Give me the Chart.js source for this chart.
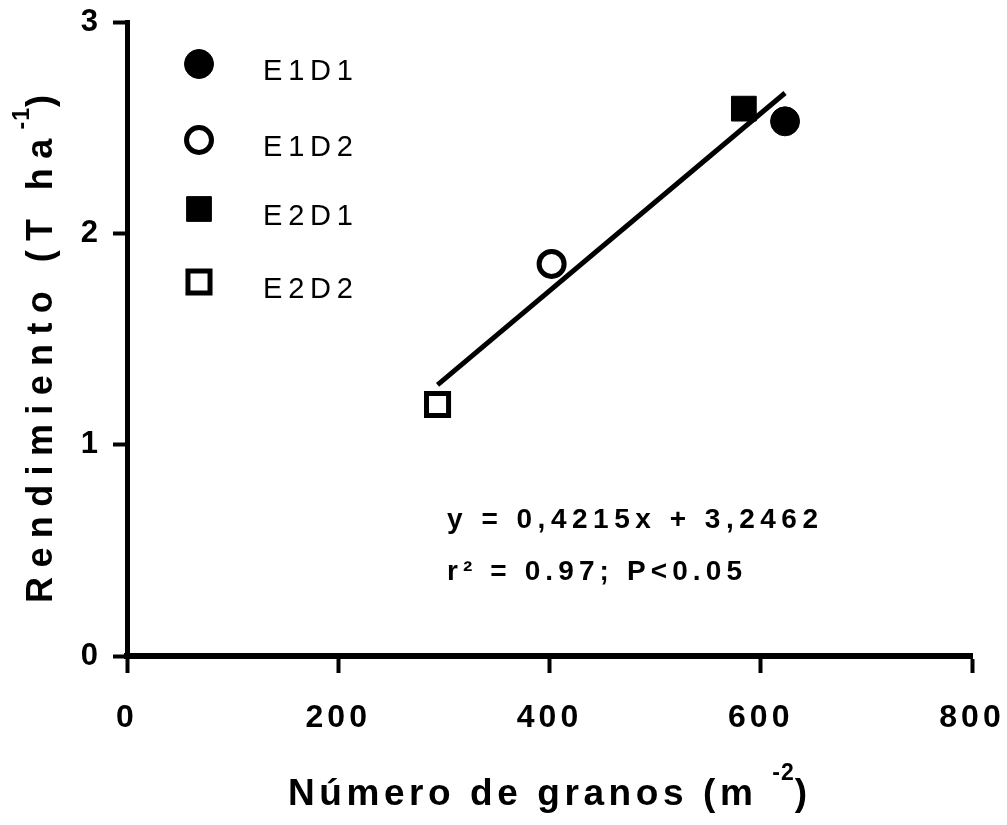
<!DOCTYPE html>
<html>
<head>
	<meta charset="utf-8">
	<title>Rendimiento vs Número de granos</title>
	<style>
		html, body { margin: 0; padding: 0; background: #ffffff; }
		#wrap { width: 1007px; height: 825px; position: relative; }
	</style>
</head>
<body>
	<div id="wrap">
		<canvas id="yieldChart"></canvas>
	</div>

	<script src="https://cdn.jsdelivr.net/npm/chart.js@4.4.0/dist/chart.umd.min.js"></script>
	<script type="text/javascript">
		// values
		const seriesLabels = ['E1D1', 'E1D2', 'E2D1', 'E2D2'];
		const grainNumbers = [623, 402, 584, 294];
		const yields = [2.53, 1.855, 2.59, 1.19];
		const fitX = [294, 623];
		const fitY = [1.283, 2.664];
		const xTicks = [0, 200, 400, 600, 800];
		const yTicks = [0, 1, 2, 3];
		const equationLines = ['y = 0,4215x + 3,2462', 'r² = 0.97; P<0.05'];

		const FONT = 'Liberation Sans, Arial, sans-serif';

		// marker look per series: filled circle, open circle, filled square, open square
		const markerStyles = [
			{ pointStyle: 'circle', radius: 14.5, filled: true, borderWidth: 1 },
			{ pointStyle: 'circle', radius: 12.5, filled: false, borderWidth: 5 },
			{ pointStyle: 'rect', radius: 17.5, filled: true, borderWidth: 1 },
			{ pointStyle: 'rect', radius: 15.6, filled: false, borderWidth: 5 }
		];

		const datasets = seriesLabels.map((lab, i) => ({
			label: lab,
			data: [{ x: grainNumbers[i], y: yields[i] }],
			pointStyle: markerStyles[i].pointStyle,
			pointRadius: markerStyles[i].radius,
			pointBorderWidth: markerStyles[i].borderWidth,
			pointBackgroundColor: markerStyles[i].filled ? '#000000' : '#ffffff',
			pointBorderColor: '#000000',
			showLine: false,
			order: 1
		}));
		datasets.push({
			label: 'ajuste',
			data: fitX.map((x, i) => ({ x: x, y: fitY[i] })),
			showLine: true,
			borderColor: '#000000',
			borderWidth: 5,
			pointRadius: 0,
			order: 2
		});

		// draws pieces of text spread out to a given width; superscript pieces stay tight
		function drawRuns(ctx, runs, x, y, width) {
			let natural = 0, chars = 0;
			runs.forEach(r => {
				ctx.font = r.font;
				ctx.letterSpacing = r.sup ? '1px' : '0px';
				natural += ctx.measureText(r.text).width;
				if (!r.sup) chars += r.text.length;
			});
			const sp = Math.max(0, (width - natural) / Math.max(1, chars - 1));
			let cx = x;
			runs.forEach(r => {
				ctx.font = r.font;
				ctx.letterSpacing = r.sup ? '1px' : sp + 'px';
				ctx.fillText(r.text, cx, y + (r.dy || 0));
				cx += ctx.measureText(r.text).width;
			});
			ctx.letterSpacing = '0px';
		}

		function drawMarker(ctx, st, x, y) {
			ctx.save();
			ctx.lineWidth = st.borderWidth;
			ctx.strokeStyle = '#000000';
			ctx.fillStyle = st.filled ? '#000000' : '#ffffff';
			ctx.beginPath();
			if (st.pointStyle === 'circle') {
				ctx.arc(x, y, st.radius, 0, Math.PI * 2);
			} else {
				const s = st.radius / Math.SQRT2;
				ctx.rect(x - s, y - s, 2 * s, 2 * s);
			}
			ctx.fill();
			ctx.stroke();
			ctx.restore();
		}

		const spacing = {
			id: 'spacing',
			beforeDraw(chart) {
				chart.ctx.letterSpacing = '4px';
			}
		};

		const extras = {
			id: 'extras',
			afterDraw(chart) {
				const ctx = chart.ctx;
				ctx.save();
				ctx.fillStyle = '#000000';
				ctx.textBaseline = 'alphabetic';
				ctx.textAlign = 'left';

				// legend inside the plot
				const legendY = [64, 140, 209, 282];
				seriesLabels.forEach((lab, i) => {
					drawMarker(ctx, markerStyles[i], 199, legendY[i]);
					drawRuns(ctx, [{ text: lab, font: '29px ' + FONT }], 263, legendY[i] + 16, 90);
				});

				// regression text
				const eqFont = 'bold 28px ' + FONT;
				drawRuns(ctx, [{ text: equationLines[0], font: eqFont }], 447, 528, 371);
				drawRuns(ctx, [{ text: equationLines[1], font: eqFont }], 447, 580, 295);

				// x title
				const tFont = 'bold 37px ' + FONT;
				const sFont = 'bold 23px ' + FONT;
				drawRuns(ctx, [
					{ text: 'Número de granos (m ', font: tFont },
					{ text: '-2', font: sFont, dy: -25, sup: true },
					{ text: ')', font: tFont }
				], 288, 805, 519);

				// y title
				ctx.save();
				ctx.translate(52, 603);
				ctx.rotate(-Math.PI / 2);
				drawRuns(ctx, [
					{ text: 'Rendimiento (T ha', font: 'bold 36px ' + FONT },
					{ text: '-1', font: sFont, dy: -23, sup: true },
					{ text: ')', font: 'bold 36px ' + FONT }
				], 0, 0, 508);
				ctx.restore();

				ctx.restore();
			}
		};

		const ctx = document.getElementById('yieldChart').getContext('2d');
		const chart = new Chart(ctx, {
			type: 'scatter',
			data: { datasets: datasets },
			options: {
				responsive: true,
				maintainAspectRatio: false,
				animation: false,
				layout: { padding: { top: 22, right: 35, left: 0, bottom: 0 } },
				plugins: {
					legend: { display: false },
					tooltip: { enabled: false }
				},
				scales: {
					x: {
						type: 'linear',
						min: 0,
						max: 800,
						afterFit: s => { s.height = 169; s.paddingLeft = 0; s.paddingRight = 0; },
						afterBuildTicks: s => { s.ticks = xTicks.map(v => ({ value: v })); },
						grid: { display: true, drawOnChartArea: false, drawTicks: true, tickLength: 17, tickWidth: 4, tickColor: '#000000' },
						border: { display: true, width: 6, color: '#000000' },
						ticks: { color: '#000000', padding: 26, font: { family: FONT, size: 32, weight: 'bold' } }
					},
					y: {
						type: 'linear',
						min: 0,
						max: 3,
						afterFit: s => { s.width = 127; s.paddingTop = 0; s.paddingBottom = 0; },
						afterBuildTicks: s => { s.ticks = yTicks.map(v => ({ value: v })); },
						grid: { display: true, drawOnChartArea: false, drawTicks: true, tickLength: 14, tickWidth: 4, tickColor: '#000000' },
						border: { display: true, width: 5, color: '#000000' },
						ticks: { color: '#000000', padding: 11, font: { family: FONT, size: 31, weight: 'bold' } }
					}
				}
			},
			plugins: [spacing, extras]
		});
	</script>
</body>
</html>
